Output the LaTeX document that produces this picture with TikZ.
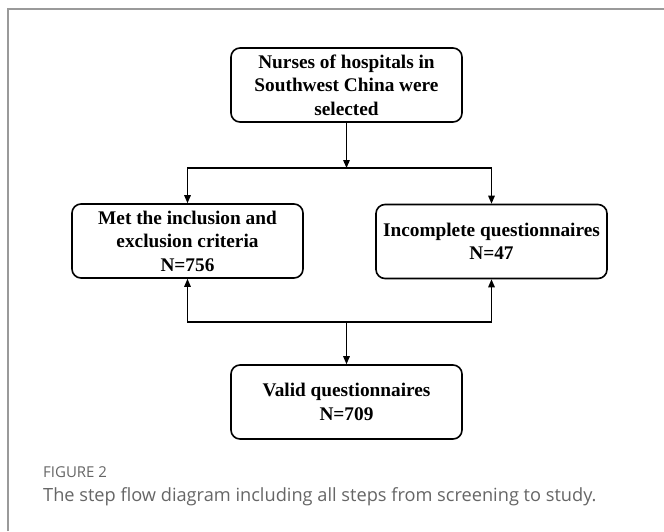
\documentclass[tikz,border=0pt]{standalone}
\usepackage{fontspec}
\setmainfont{Liberation Serif}
\newfontfamily\boxfont{Liberation Serif}
\newfontfamily\capfont{Open Sans}
\usetikzlibrary{arrows.meta}
\definecolor{framegray}{HTML}{9A9A9A}
\definecolor{capgray}{HTML}{666666}
\tikzset{
  stepbox/.style={draw=black, line width=1.6pt, rounded corners=9pt,
    minimum width=231pt, minimum height=74pt, align=center, inner sep=2pt,
    font=\boxfont\bfseries\fontsize{19.3}{23.5}\selectfont},
  arr/.style={draw=black, line width=1.4pt, -{Triangle[length=8pt,width=6.5pt]}},
  capstyle/.style={anchor=base west, inner sep=0pt, text=capgray}
}
\begin{document}
\begin{tikzpicture}[x=1pt,y=-1pt]
\useasboundingbox (0,0) rectangle (664,531);
\fill[white] (0,0) rectangle (664,531);
\draw[framegray, line width=1.2pt] (8,531) -- (8,9) -- (664,9);
\node[stepbox] (top) at (346.5,85) {Nurses of hospitals in\\Southwest China were\\selected};
\node[stepbox] (left) at (187.5,241) {Met the inclusion and\\exclusion criteria\\N=756};
\node[stepbox] (right) at (491.5,241.5) {Incomplete questionnaires\\N=47};
\node[stepbox] (bottom) at (346.5,402) {Valid questionnaires\\N=709};
\coordinate (j1) at (346.5,168);
\coordinate (j2) at (346.5,322);
\draw[arr] (top.south) -- (j1);
\draw[arr] (j1) -| (left.north);
\draw[arr] (j1) -| (right.north);
\draw[arr] (j2) -| (left.south);
\draw[arr] (j2) -| (right.south);
\draw[arr] (j2) -- (bottom.north);
\node[capstyle, font=\capfont\fontsize{15}{17}\selectfont] (figlabel) at (43,477) {FIGURE 2};
\node[capstyle, font=\capfont\fontsize{18.2}{22}\selectfont] (figcap) at (43,501) {The step flow diagram including all steps from screening to study.};
\end{tikzpicture}
\end{document}
